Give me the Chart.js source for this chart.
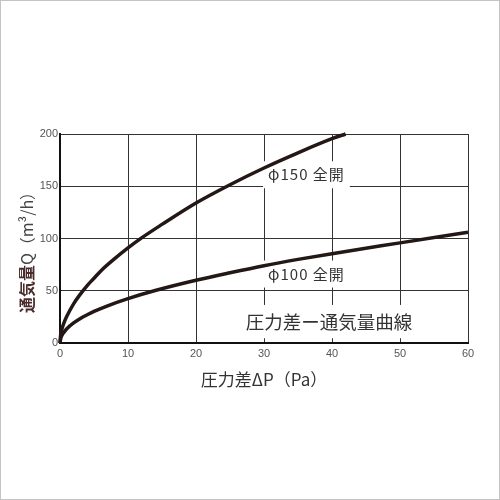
<!DOCTYPE html>
<html>
<head>
<meta charset="utf-8">
<script src="https://cdn.jsdelivr.net/npm/chart.js@4"></script>
<style>
html,body{margin:0;padding:0;background:#fff;}
#frame{position:absolute;left:0;top:0;width:500px;height:500px;box-sizing:border-box;border:1px solid #c4c4c4;}
#wrap{position:absolute;left:0;top:0;width:500px;height:500px;}
</style>
</head>
<body>
<div id="frame"></div>
<div id="wrap"><canvas id="c" width="500" height="500"></canvas></div>
<script>
// Pressure difference ΔP (Pa) and airflow Q (m³/h)
const pressure150 = [0, 0.1, 0.3, 0.6, 1, 2, 3, 4, 5, 6, 8, 10, 12, 15, 20, 25, 30, 35, 40, 42];
const flow150     = [0, 7.9, 13.9, 19.6, 25.6, 37.5, 46.8, 55, 62, 69, 80.5, 91, 100.6, 113.5, 134, 151.5, 167.5, 182, 195.5, 200];
const pressure100 = [0, 0.1, 0.3, 0.6, 1, 2, 3, 4, 5, 7, 10, 14, 20, 25, 30, 35, 40, 50, 60];
const flow100     = [0, 4.3, 7.4, 10.4, 13.6, 19.2, 23.5, 27, 30.2, 35.6, 42.5, 50.2, 60, 67.2, 74, 80, 85.5, 95.8, 106];
const seriesLabels = ['φ150 全開', 'φ100 全開'];
const chartTitle = '圧力差ー通気量曲線';
const xTitle = '圧力差ΔP（Pa）';
const yTitleMain = '通気量';
const yTitleUnit = 'Q（m³/h）';

const toPts = (xs, ys) => xs.map((x, i) => ({x: x, y: ys[i]}));
const LINE = '#231815';
const CJK = '"Noto Sans CJK JP", "Noto Sans", sans-serif';

const labelSpecs = [
  {text: seriesLabels[0], x: 30.6, y: 161, size: 15, spacing: 1},
  {text: seriesLabels[1], x: 30.6, y: 66, size: 15, spacing: 1},
  {text: chartTitle, x: 27.3, y: 20.5, size: 18.5, spacing: 0}
];

const labelPlugin = {
  id: 'labels',
  beforeDatasetsDraw(chart) {
    const ctx = chart.ctx, xs = chart.scales.x, ys = chart.scales.y;
    ctx.save();
    labelSpecs.forEach(l => {
      ctx.font = l.size + 'px ' + CJK;
      ctx.letterSpacing = l.spacing + 'px';
      const x = xs.getPixelForValue(l.x), y = ys.getPixelForValue(l.y);
      const w = ctx.measureText(l.text).width;
      ctx.fillStyle = '#fff';
      ctx.fillRect(x - 5, y - l.size * 0.9, w + 10, l.size * 1.8);
    });
    ctx.restore();
  },
  afterDatasetsDraw(chart) {
    const ctx = chart.ctx, xs = chart.scales.x, ys = chart.scales.y;
    ctx.save();
    ctx.textBaseline = 'middle';
    ctx.textAlign = 'left';
    labelSpecs.forEach(l => {
      ctx.font = l.size + 'px ' + CJK;
      ctx.letterSpacing = l.spacing + 'px';
      ctx.fillStyle = '#333';
      ctx.fillText(l.text, xs.getPixelForValue(l.x), ys.getPixelForValue(l.y));
    });
    ctx.letterSpacing = '0px';
    // y axis title, rotated, two colours
    const ya = chart.scales.y;
    ctx.font = 'bold 16px ' + CJK;
    const wa = ctx.measureText(yTitleMain).width;
    ctx.font = '16px ' + CJK;
    const wb = ctx.measureText(yTitleUnit).width;
    const cy = (ya.top + ya.bottom) / 2 + 10;
    ctx.translate(27, cy + (wa + wb) / 2);
    ctx.rotate(-Math.PI / 2);
    ctx.font = 'bold 16px ' + CJK;
    ctx.fillStyle = '#4a2c2c';
    ctx.fillText(yTitleMain, 0, 0);
    ctx.font = '16px ' + CJK;
    ctx.fillStyle = '#444';
    ctx.fillText(yTitleUnit, wa, 0);
    ctx.restore();
  }
};

new Chart(document.getElementById('c'), {
  type: 'scatter',
  data: {
    datasets: [
      {label: seriesLabels[0], data: toPts(pressure150, flow150), showLine: true,
       borderColor: LINE, borderWidth: 3.5, pointRadius: 0, cubicInterpolationMode: 'monotone', clip: 2},
      {label: seriesLabels[1], data: toPts(pressure100, flow100), showLine: true,
       borderColor: LINE, borderWidth: 3.5, pointRadius: 0, cubicInterpolationMode: 'monotone', clip: 2}
    ]
  },
  plugins: [labelPlugin],
  options: {
    responsive: false,
    animation: false,
    devicePixelRatio: 1,
    layout: {padding: {left: 0, top: 134, right: 32, bottom: 106}},
    plugins: {legend: {display: false}, tooltip: {enabled: false}},
    scales: {
      x: {
        type: 'linear', min: 0, max: 60,
        ticks: {stepSize: 10, color: '#555', padding: 4, font: {family: '"Liberation Sans", Arial, sans-serif', size: 11}},
        grid: {color: '#333', lineWidth: 1, drawTicks: false},
        border: {color: '#111', width: 2},
        title: {display: true, text: xTitle, color: '#333', font: {family: CJK, size: 17}, padding: {top: 4}},
        afterFit(s) { s.height = 51; }
      },
      y: {
        type: 'linear', min: 0, max: 200,
        ticks: {stepSize: 50, color: '#555', padding: 2, font: {family: '"Liberation Sans", Arial, sans-serif', size: 11}},
        grid: {color: '#333', lineWidth: 1, drawTicks: false},
        border: {color: '#111', width: 2},
        afterFit(s) { s.width = 60; }
      }
    }
  }
});
</script>
</body>
</html>
